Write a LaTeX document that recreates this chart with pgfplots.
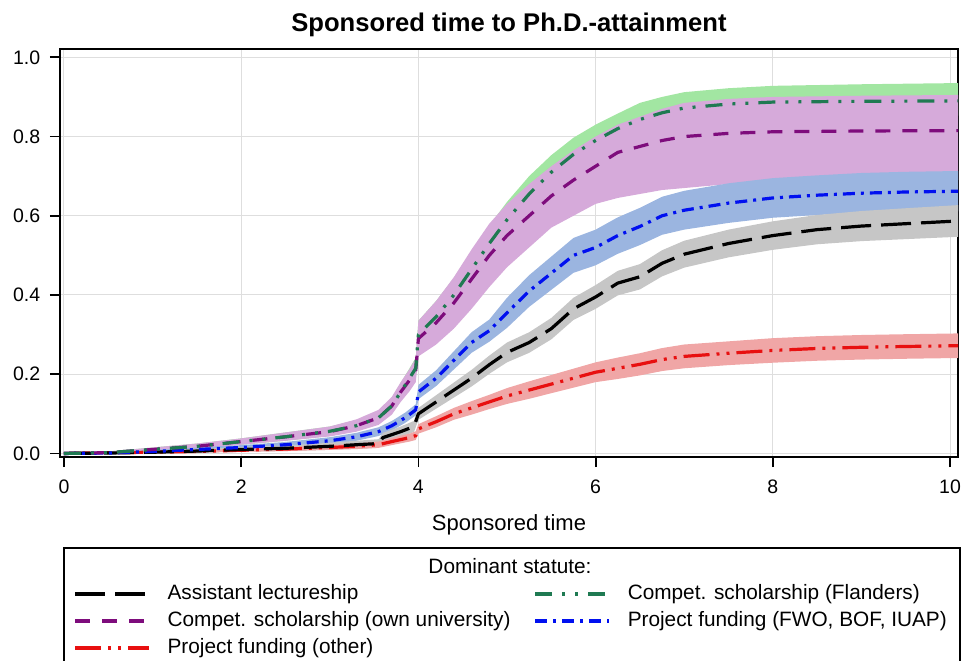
\documentclass[border=0pt]{standalone}
\usepackage{fontspec}
\setmainfont{Liberation Sans}
\usepackage{pgfplots}
\usepackage{pgfplotstable}
\pgfplotsset{compat=1.18}
\usepgfplotslibrary{fillbetween}

% line colours
\definecolor{lnblack}{HTML}{000000}
\definecolor{lnpurple}{HTML}{7E0C7C}
\definecolor{lngreen}{HTML}{1F7A52}
\definecolor{lnblue}{HTML}{0010F0}
\definecolor{lnred}{HTML}{E81010}
% confidence band colours
\definecolor{bdgray}{HTML}{C6C6C6}
\definecolor{bdpurple}{HTML}{D6AADA}
\definecolor{bdgreen}{HTML}{A2E6A2}
\definecolor{bdblue}{HTML}{9BB5E0}
\definecolor{bdred}{HTML}{F0A6A6}

% x = sponsored time, y = cumulative attainment, lo/hi = confidence band
\pgfplotstableread{
x y lo hi
0 0 0 0
0.5 0.001 0 0.003
1 0.003 0 0.007
1.5 0.006 0.002 0.011
2 0.01 0.004 0.016
2.5 0.013 0.006 0.02
3 0.018 0.009 0.027
3.3 0.022 0.012 0.032
3.55 0.025 0.014 0.036
3.6 0.04 0.028 0.052
3.8 0.055 0.042 0.068
3.95 0.068 0.054 0.082
4.0 0.1 0.085 0.115
4.2 0.13 0.113 0.147
4.4 0.16 0.141 0.179
4.6 0.19 0.169 0.211
4.8 0.224 0.201 0.247
5.0 0.255 0.23 0.28
5.25 0.28 0.254 0.306
5.5 0.315 0.288 0.342
5.75 0.365 0.337 0.393
6.0 0.395 0.365 0.425
6.25 0.43 0.399 0.461
6.5 0.446 0.414 0.478
6.75 0.48 0.447 0.513
7.0 0.503 0.469 0.537
7.5 0.53 0.495 0.565
8.0 0.55 0.514 0.586
8.5 0.565 0.528 0.602
9.0 0.574 0.536 0.612
9.5 0.58 0.541 0.619
10.1 0.587 0.547 0.627
}\tabAssist

\pgfplotstableread{
x y lo hi
0 0 0 0
0.5 0.002 0 0.005
1 0.01 0.005 0.015
1.5 0.018 0.012 0.025
2 0.03 0.022 0.038
2.5 0.042 0.032 0.053
3 0.056 0.044 0.068
3.3 0.07 0.056 0.084
3.55 0.09 0.074 0.106
3.7 0.12 0.1 0.14
3.8 0.155 0.132 0.178
3.9 0.19 0.165 0.215
3.97 0.215 0.188 0.242
4.0 0.3 0.265 0.335
4.2 0.345 0.305 0.385
4.4 0.4 0.357 0.443
4.6 0.465 0.42 0.51
4.8 0.53 0.485 0.575
5.0 0.59 0.545 0.635
5.25 0.655 0.61 0.7
5.5 0.71 0.667 0.753
5.75 0.755 0.713 0.797
6.0 0.79 0.75 0.83
6.25 0.82 0.782 0.858
6.5 0.843 0.806 0.885
6.75 0.86 0.823 0.9
7.0 0.872 0.836 0.912
7.5 0.882 0.847 0.922
8.0 0.887 0.852 0.928
9.0 0.889 0.853 0.932
10.1 0.89 0.853 0.935
}\tabFlanders

\pgfplotstableread{
x y lo hi
0 0 0 0
0.5 0.002 0 0.005
1 0.01 0.005 0.015
1.5 0.018 0.012 0.025
2 0.03 0.022 0.038
2.5 0.042 0.032 0.053
3 0.055 0.043 0.068
3.3 0.07 0.055 0.086
3.55 0.09 0.072 0.11
3.7 0.12 0.098 0.143
3.8 0.155 0.13 0.18
3.9 0.185 0.157 0.213
3.97 0.21 0.18 0.24
4.0 0.29 0.245 0.335
4.2 0.33 0.275 0.385
4.4 0.38 0.315 0.445
4.6 0.44 0.365 0.515
4.8 0.5 0.42 0.58
5.0 0.55 0.47 0.63
5.25 0.6 0.52 0.68
5.5 0.65 0.57 0.725
5.75 0.69 0.6 0.765
6.0 0.725 0.63 0.8
6.25 0.76 0.645 0.83
6.5 0.775 0.655 0.85
6.75 0.79 0.665 0.87
7.0 0.8 0.67 0.885
7.5 0.808 0.68 0.895
8.0 0.812 0.685 0.9
9.0 0.814 0.688 0.903
10.1 0.815 0.69 0.905
}\tabOwnUniv

\pgfplotstableread{
x y lo hi
0 0 0 0
0.5 0.001 0 0.003
1 0.005 0.001 0.009
1.5 0.01 0.005 0.015
2 0.015 0.009 0.021
2.5 0.022 0.015 0.029
3 0.032 0.023 0.041
3.3 0.042 0.032 0.052
3.55 0.055 0.044 0.066
3.7 0.07 0.058 0.082
3.85 0.09 0.077 0.103
3.97 0.11 0.096 0.124
4.0 0.155 0.137 0.173
4.2 0.19 0.17 0.21
4.4 0.235 0.212 0.258
4.6 0.28 0.254 0.306
4.8 0.31 0.282 0.338
5.0 0.355 0.317 0.393
5.25 0.41 0.37 0.45
5.5 0.455 0.413 0.497
5.75 0.5 0.456 0.544
6.0 0.52 0.475 0.565
6.25 0.55 0.504 0.596
6.5 0.573 0.526 0.62
6.75 0.6 0.552 0.648
7.0 0.614 0.565 0.663
7.5 0.632 0.582 0.682
8.0 0.645 0.595 0.695
8.5 0.652 0.602 0.702
9.0 0.657 0.606 0.708
9.5 0.66 0.609 0.711
10.1 0.662 0.611 0.713
}\tabProjFWO

\pgfplotstableread{
x y lo hi
0 0 0 0
0.5 0.002 0 0.004
1 0.003 0 0.006
1.5 0.005 0.002 0.008
2 0.008 0.004 0.012
2.5 0.011 0.006 0.016
3 0.015 0.009 0.021
3.3 0.018 0.011 0.025
3.55 0.022 0.014 0.03
3.7 0.03 0.021 0.039
3.9 0.04 0.03 0.05
3.97 0.045 0.034 0.056
4.0 0.062 0.05 0.074
4.2 0.08 0.066 0.094
4.4 0.1 0.085 0.115
4.6 0.115 0.098 0.132
4.8 0.13 0.112 0.148
5.0 0.145 0.125 0.165
5.25 0.16 0.138 0.182
5.5 0.175 0.152 0.198
5.75 0.19 0.166 0.214
6.0 0.205 0.18 0.23
6.25 0.215 0.188 0.242
6.5 0.225 0.197 0.253
6.75 0.237 0.208 0.266
7.0 0.245 0.215 0.275
7.5 0.253 0.223 0.283
8.0 0.26 0.229 0.291
8.5 0.265 0.234 0.296
9.0 0.268 0.237 0.299
9.5 0.27 0.239 0.301
10.1 0.272 0.241 0.303
}\tabProjOther

% line styles of the five groups
\tikzset{
  stAssist/.style={lnblack, line width=1.6pt, dash pattern=on 15pt off 5pt},
  stOwn/.style={lnpurple, line width=1.6pt, dash pattern=on 7.5pt off 6pt},
  stFlan/.style={lngreen, line width=1.6pt, dash pattern=on 8.5pt off 5pt on 1.5pt off 5pt on 1.5pt off 5pt},
  stFWO/.style={lnblue, line width=1.6pt, dash pattern=on 6pt off 3pt on 1.5pt off 3pt},
  stOther/.style={lnred, line width=1.6pt, dash pattern=on 13pt off 3.5pt on 1.5pt off 3.5pt on 1.5pt off 3.5pt},
}

\begin{document}
\begin{tikzpicture}
\begin{axis}[
  at={(0pt,0pt)}, anchor=south west,
  scale only axis, width=449pt, height=204pt,
  xmin=-0.045, xmax=10.09, ymin=-0.009, ymax=1.021,
  xtick={0,2,4,6,8,10}, ytick={0,0.2,0.4,0.6,0.8,1},
  xtick pos=bottom, ytick pos=left,
  tick align=outside, major tick length=5pt,
  major tick style={black, line width=0.9pt},
  axis line style={black, line width=0.9pt},
  grid=major, major grid style={line width=0.5pt, draw=black!13},
  /pgf/number format/assume math mode=true,
  xticklabel style={font=\fontsize{9.75}{11}\selectfont, inner sep=0pt, anchor=base, yshift=-13pt},
  yticklabel style={font=\fontsize{9.75}{11}\selectfont, inner sep=0pt, anchor=east, xshift=-4.7pt,
    /pgf/number format/fixed, /pgf/number format/fixed zerofill, /pgf/number format/precision=1},
  title={\textbf{Sponsored time to Ph.D.-attainment}},
  title style={font=\fontsize{12.8}{14}\selectfont, at={(axis description cs:0.5,1)}, anchor=base, yshift=2.8pt, inner sep=0pt},
  xlabel={Sponsored time},
  xlabel style={font=\fontsize{11}{13}\selectfont, at={(axis description cs:0.5,0)}, anchor=base, yshift=-36.5pt, inner sep=0pt},
  legend columns=2,
  legend cell align=left,
  legend image code/.code={\draw[#1] (0pt,0pt) -- (37pt,0pt);},
  legend style={at={(axis description cs:0.0145,-0.3088)}, anchor=north west,
    draw=none, fill=none, inner sep=0pt, row sep=3pt,
    font=\fontsize{10.4}{12}\selectfont,
    nodes={inner sep=0pt, text height=7.8pt, text depth=2.7pt},
    /tikz/every odd column/.append style={column sep=8.5pt},
    /tikz/every even column/.append style={column sep=11.5pt}},
]
% confidence bands
\addplot[draw=none, name path=fL, forget plot] table[x=x, y=lo]{\tabFlanders};
\addplot[draw=none, name path=fH, forget plot] table[x=x, y=hi]{\tabFlanders};
\addplot[bdgreen, forget plot] fill between[of=fL and fH];
\addplot[draw=none, name path=oL, forget plot] table[x=x, y=lo]{\tabOwnUniv};
\addplot[draw=none, name path=oH, forget plot] table[x=x, y=hi]{\tabOwnUniv};
\addplot[bdpurple, forget plot] fill between[of=oL and oH];
\addplot[draw=none, name path=pL, forget plot] table[x=x, y=lo]{\tabProjFWO};
\addplot[draw=none, name path=pH, forget plot] table[x=x, y=hi]{\tabProjFWO};
\addplot[bdblue, forget plot] fill between[of=pL and pH];
\addplot[draw=none, name path=aL, forget plot] table[x=x, y=lo]{\tabAssist};
\addplot[draw=none, name path=aH, forget plot] table[x=x, y=hi]{\tabAssist};
\addplot[bdgray, forget plot] fill between[of=aL and aH];
\addplot[draw=none, name path=rL, forget plot] table[x=x, y=lo]{\tabProjOther};
\addplot[draw=none, name path=rH, forget plot] table[x=x, y=hi]{\tabProjOther};
\addplot[bdred, forget plot] fill between[of=rL and rH];
% estimated curves
\addplot[stOther, forget plot] table[x=x, y=y]{\tabProjOther};
\addplot[stAssist, forget plot] table[x=x, y=y]{\tabAssist};
\addplot[stFWO, forget plot] table[x=x, y=y]{\tabProjFWO};
\addplot[stOwn, forget plot] table[x=x, y=y]{\tabOwnUniv};
\addplot[stFlan, forget plot] table[x=x, y=y]{\tabFlanders};
% legend, filled row by row
\addlegendimage{stAssist}
\addlegendentry{Assistant lectureship}
\addlegendimage{stFlan}
\addlegendentry{Compet. scholarship (Flanders)}
\addlegendimage{stOwn}
\addlegendentry{Compet. scholarship (own university)}
\addlegendimage{stFWO}
\addlegendentry{Project funding (FWO, BOF, IUAP)}
\addlegendimage{stOther}
\addlegendentry{Project funding (other)}
\end{axis}
% legend frame and heading
\draw[black, line width=0.8pt] (2pt,-120pt) -- (2pt,-45.5pt) -- (450pt,-45.5pt) -- (450pt,-120pt);
\node[font=\fontsize{10.4}{12}\selectfont, anchor=center] at (225pt,-54.5pt) {Dominant statute:};
\pgfresetboundingbox
\useasboundingbox (-30pt,-101.5pt) rectangle (451.5pt,228.5pt);
\end{tikzpicture}
\end{document}
